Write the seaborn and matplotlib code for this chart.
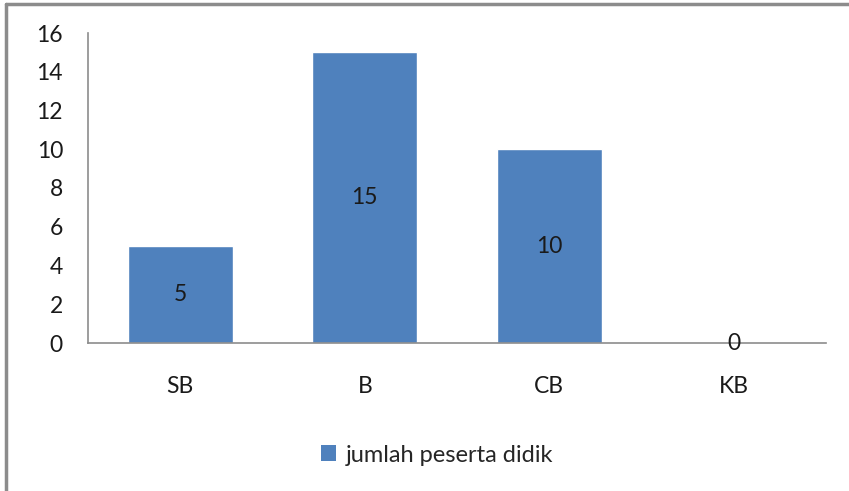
import matplotlib
matplotlib.use("Agg")
import matplotlib.pyplot as plt
import seaborn as sns
import pandas as pd
from matplotlib.patches import Patch
from matplotlib.lines import Line2D

categories = ["SB", "B", "CB", "KB"]
values = [5, 15, 10, 0]
series_name = "jumlah peserta didik"
yticks = [0, 2, 4, 6, 8, 10, 12, 14, 16]

df = pd.DataFrame({"kategori": categories, "nilai": values})

sns.set_theme(style="white")
plt.rcParams["font.family"] = ["Lato", "DejaVu Sans"]

W, H = 849, 491
fig = plt.figure(figsize=(W / 100, H / 100), dpi=100)
ax = fig.add_axes([88 / W, 1 - 343 / H, (826 - 88) / W, (343 - 33) / H])

color = "#4F81BD"
sns.barplot(data=df, x="kategori", y="nilai", color=color, width=0.57,
            ax=ax, saturation=1)

fs = 16.5
ax.set_ylim(0, 16)
ax.set_xlim(-0.5, 3.5)
ax.set_yticks(yticks)
ax.set_xlabel("")
ax.set_ylabel("")
for s in ["top", "right"]:
    ax.spines[s].set_visible(False)
for s in ["left", "bottom"]:
    ax.spines[s].set_color("#8C8C8C")
    ax.spines[s].set_linewidth(1.2)
ax.tick_params(axis="y", length=0, pad=18, labelsize=fs, colors="#1a1a1a")
ax.tick_params(axis="x", length=0, pad=24, labelsize=fs, colors="#1a1a1a")

for c in ax.containers:
    ax.bar_label(c, labels=[str(v) for v in values], label_type="center",
                 fontsize=fs, color="#1a1a1a")

handles = [Patch(facecolor=color, edgecolor="none")]
fig.legend(handles, [series_name], loc="center", frameon=False,
           bbox_to_anchor=(437 / W, 1 - 455 / H), fontsize=fs + 0.5,
           handlelength=0.65, handleheight=0.65, handletextpad=0.4)

# outer border (top and left visible)
fig.add_artist(Line2D([6 / W, 6 / W], [0, 1 - 4 / H], transform=fig.transFigure,
                      color="#8C8C8C", lw=2.5))
fig.add_artist(Line2D([6 / W, 1], [1 - 4 / H, 1 - 4 / H], transform=fig.transFigure,
                      color="#8C8C8C", lw=2.5))

fig.savefig("out.png", dpi=100)
